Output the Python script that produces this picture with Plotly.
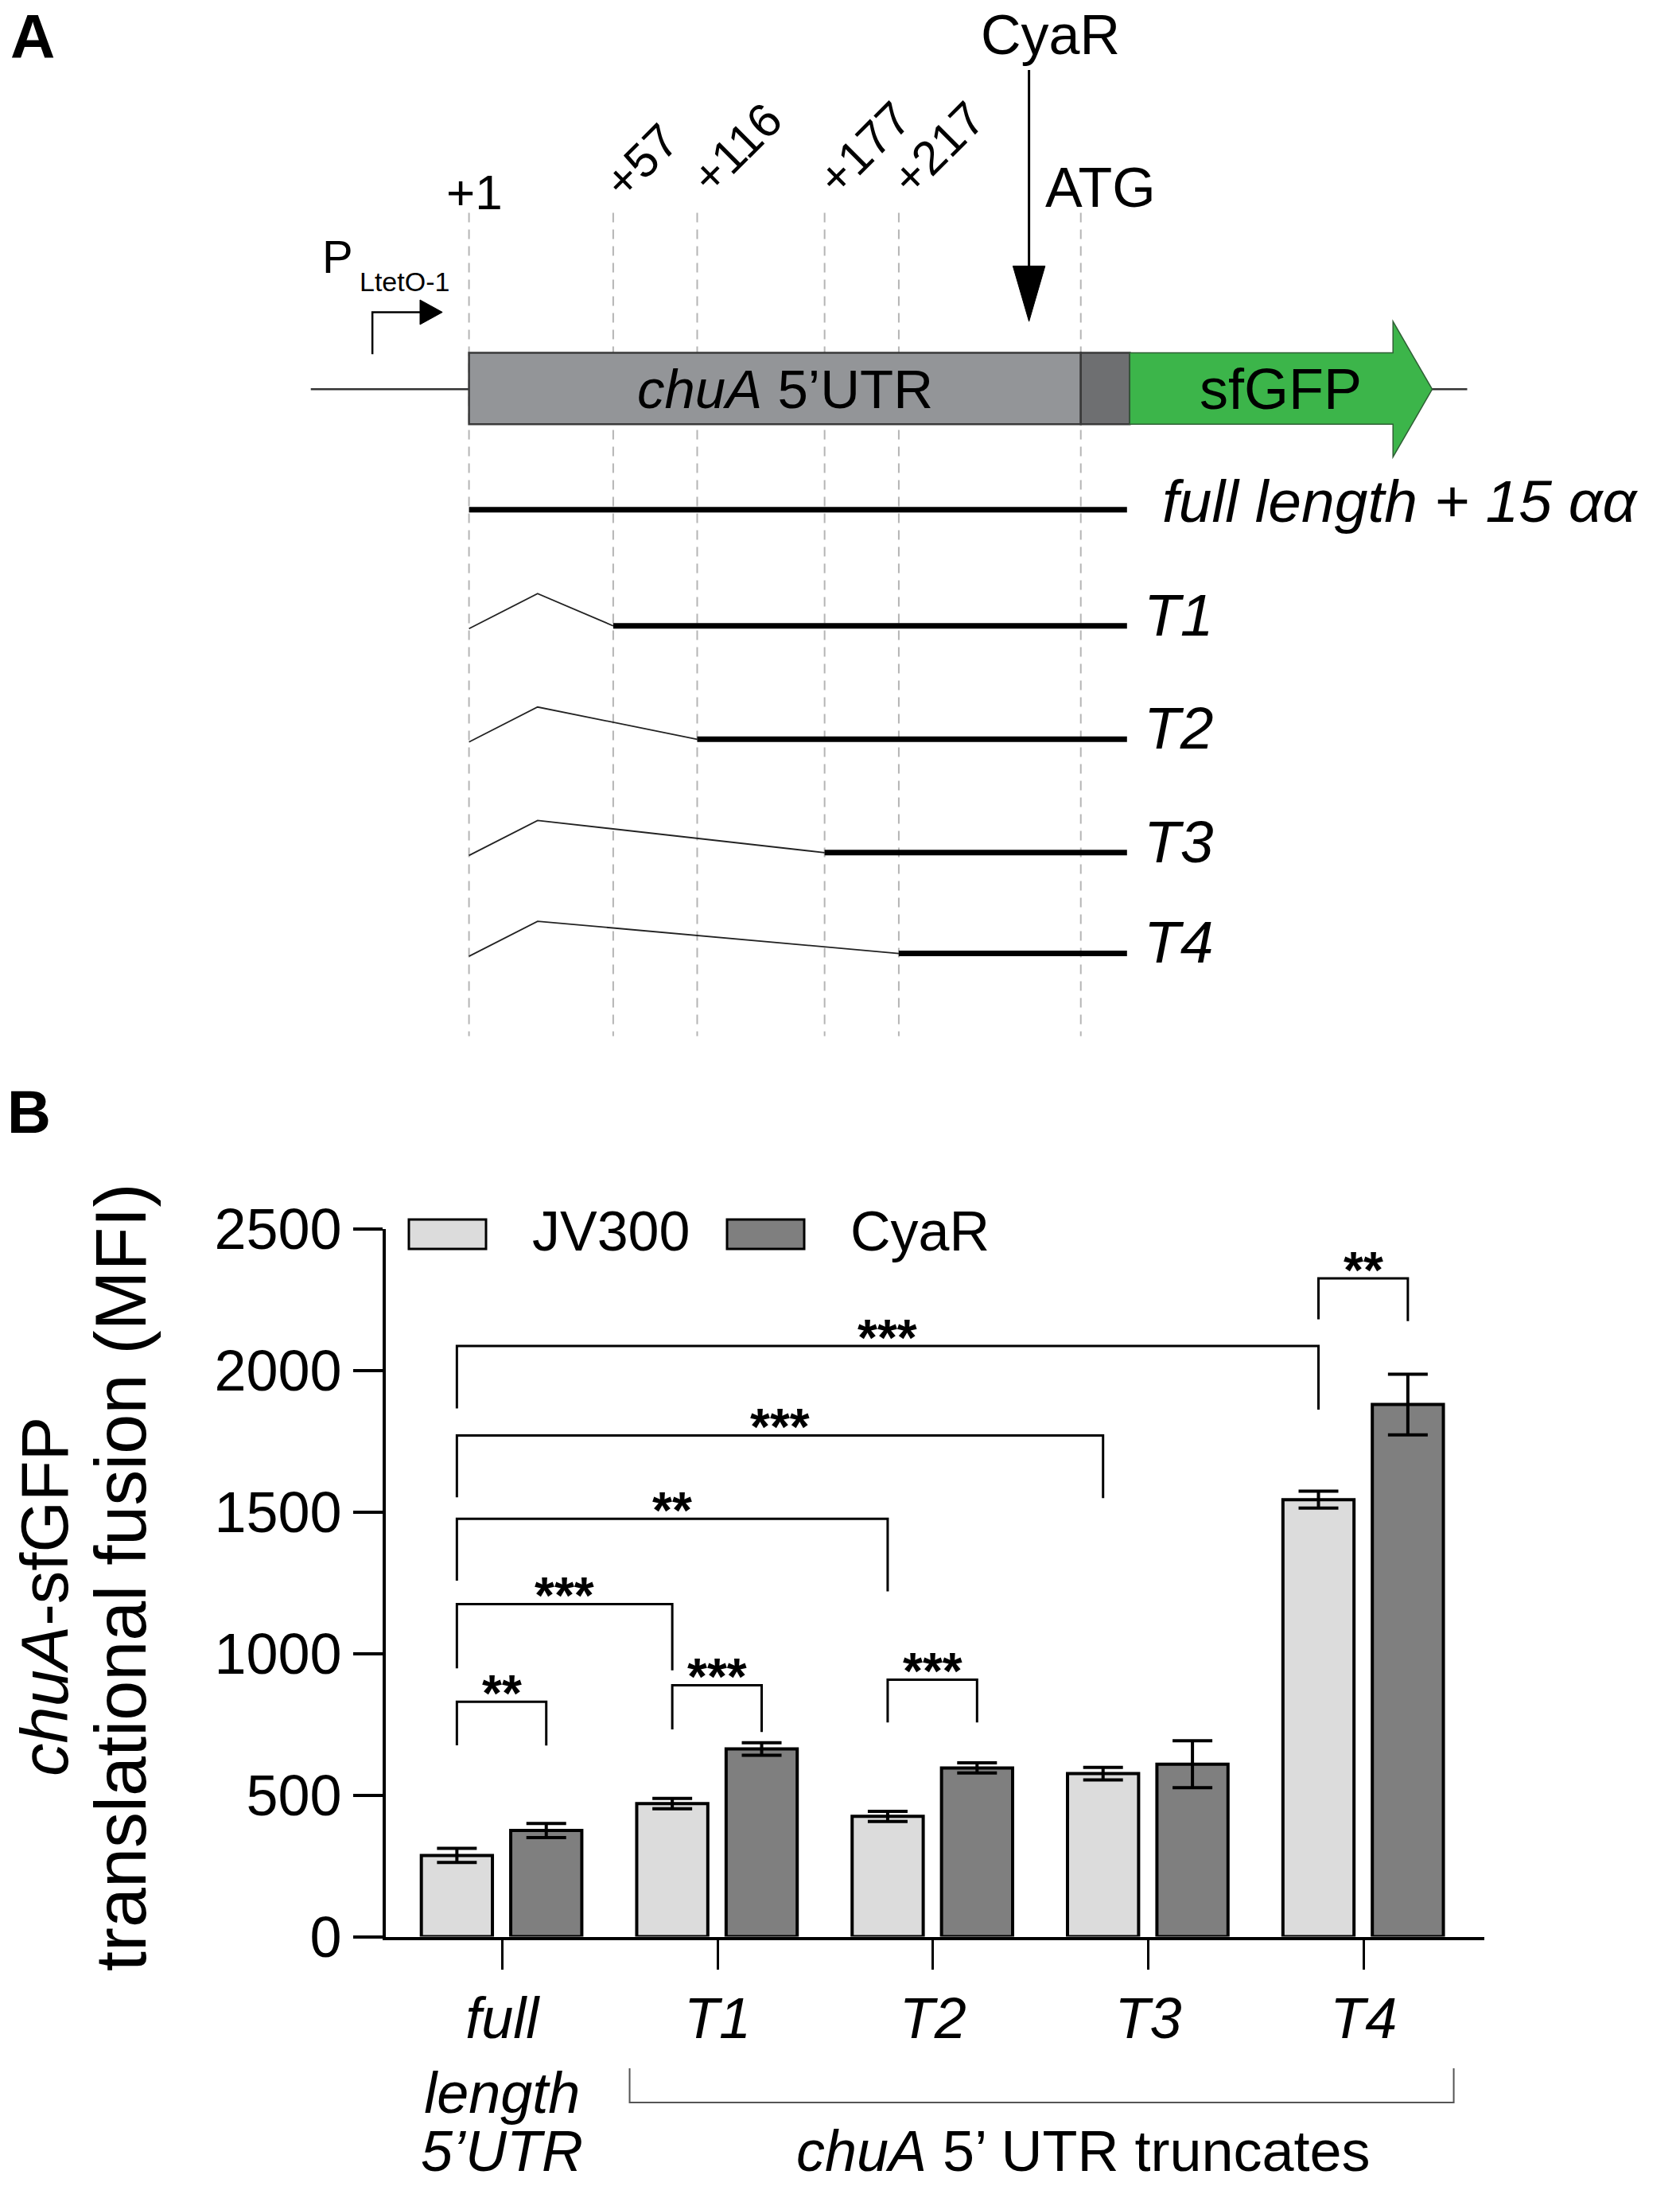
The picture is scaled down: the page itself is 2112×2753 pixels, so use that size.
import plotly.graph_objects as go

### panel B data (MFI)
categories = ["full length 5’UTR", "T1", "T2", "T3", "T4"]
tick_labels = ["<i>full</i><br><i>length</i>",
               "<i>T1</i>", "<i>T2</i>", "<i>T3</i>", "<i>T4</i>"]
jv300_mfi = [287, 470, 425, 576, 1544]
jv300_err = [25, 18, 18, 22, 30]
cyar_mfi = [375, 663, 596, 609, 1880]
cyar_err = [25, 22, 18, 83, 107]
y_ticks = [0, 500, 1000, 1500, 2000, 2500]

# significance brackets: left end is always the JV300 bar of sig_a,
# right end is the bar (group, strain) in sig_b
sig_a = [0, 0, 1, 0, 2, 0, 0, 4]
sig_b = [(0, "CyaR"), (1, "JV300"), (1, "CyaR"), (2, "JV300"),
         (2, "CyaR"), (3, "JV300"), (4, "JV300"), (4, "CyaR")]
sig_top = [830, 1175, 888, 1476, 908, 1771, 2087, 2326]
sig_left_end = [676, 948, 732, 1258, 757, 1552, 1866, 2181]
sig_right_end = [675, 941, 723, 1220, 757, 1549, 1862, 2175]
sig_stars = ["**", "***", "***", "**", "***", "***", "***", "**"]

### panel A data (schematic, not to scale)
site_labels = ["+1", "+57", "+116", "+177", "+217"]
site_x = [335, 438, 498, 589, 642]      # schematic position of each site
atg_x = 772                              # ATG start codon
fusion_end_x = 805                       # +15 aa into the coding sequence
construct_labels = ["full length + 15 αα", "T1", "T2", "T3", "T4"]
construct_start = ["+1", "+57", "+116", "+177", "+217"]

FONT = "Liberation Sans, Arial, sans-serif"
W, H = 2112, 2753

### bar geometry
bar_w = 0.33
offsets = {"JV300": -0.375, "CyaR": 0.04}
x_pos = list(range(len(categories)))


def bar_center(group, strain):
    return group + offsets[strain] + bar_w / 2


fig = go.Figure()

fig.add_trace(go.Bar(x=x_pos, y=jv300_mfi, width=bar_w, offset=offsets["JV300"],
                     marker=dict(color="#dcdcdc", line=dict(color="black", width=4)),
                     error_y=dict(type="data", array=jv300_err, color="black", thickness=4, width=25),
                     name="JV300", showlegend=False, xaxis="x", yaxis="y"))
fig.add_trace(go.Bar(x=x_pos, y=cyar_mfi, width=bar_w, offset=offsets["CyaR"],
                     marker=dict(color="#7f7f7f", line=dict(color="black", width=4)),
                     error_y=dict(type="data", array=cyar_err, color="black", thickness=4, width=25),
                     name="CyaR", showlegend=False, xaxis="x", yaxis="y"))

annotations = []
shapes = []

#significance brackets
for i in range(len(sig_a)):
    xa = bar_center(sig_a[i], "JV300")
    xb = bar_center(*sig_b[i])
    fig.add_trace(go.Scatter(x=[xa, xa, xb, xb],
                             y=[sig_left_end[i], sig_top[i], sig_top[i], sig_right_end[i]],
                             mode="lines", line=dict(color="black", width=3),
                             showlegend=False, hoverinfo="skip", xaxis="x", yaxis="y"))
    annotations.append(dict(x=(xa + xb) / 2, y=sig_top[i] + 68, xref="x", yref="y",
                            xanchor="center", yanchor="middle",
                            text="<b>" + sig_stars[i] + "</b>", showarrow=False, yshift=-14,
                            font=dict(size=64, color="black")))

#legend drawn by hand (plotly's swatches are too small)
legend_items = [("JV300", "#dcdcdc", 514, 667), ("CyaR", "#7f7f7f", 914, 1067)]
for name, colour, sx, tx in legend_items:
    shapes.append(dict(type="rect", xref="paper", yref="paper",
                       x0=sx / W, x1=(sx + 97) / W, y0=1 - 1570 / H, y1=1 - 1533 / H,
                       fillcolor=colour, line=dict(color="black", width=3)))
    annotations.append(dict(x=tx / W, y=1 - 1548 / H, xref="paper", yref="paper",
                            xanchor="left", yanchor="middle", text=name, showarrow=False,
                            font=dict(size=70, color="black")))

#third line of the first category label (kept inside the page)
annotations.append(dict(x=x_pos[0], y=1 - 2704 / H, xref="x", yref="paper",
                        xanchor="center", yanchor="middle", text="<i>5’UTR</i>",
                        showarrow=False, font=dict(size=72, color="black")))

#truncates bracket under the x axis
shapes.append(dict(type="path", xref="x", yref="paper",
                   path="M 0.592,%f L 0.592,%f L 4.418,%f L 4.418,%f" % (
                       1 - 2600 / H, 1 - 2643 / H, 1 - 2643 / H, 1 - 2600 / H),
                   line=dict(color="#555555", width=2)))
annotations.append(dict(x=2.7, y=1 - 2704 / H, xref="x", yref="paper",
                        xanchor="center", yanchor="middle",
                        text="<i>chuA</i> 5’ UTR truncates", showarrow=False,
                        font=dict(size=72, color="black")))

#y axis title, one annotation per line
annotations.append(dict(x=56 / W, y=1 - 2007 / H, xref="paper", yref="paper",
                        xanchor="center", yanchor="middle",
                        text="<i>chuA</i>-sfGFP", textangle=-90, showarrow=False,
                        font=dict(size=83, color="black")))
annotations.append(dict(x=152 / W, y=1 - 1983 / H, xref="paper", yref="paper",
                        xanchor="center", yanchor="middle",
                        text="translational fusion (MFI)", textangle=-90, showarrow=False,
                        font=dict(size=90, color="black")))

#panel letters
annotations.append(dict(x=41 / W, y=1 - 46 / H, xref="paper", yref="paper", text="<b>A</b>",
                        xanchor="center", yanchor="middle",
                        showarrow=False, font=dict(size=78, color="black")))
annotations.append(dict(x=36 / W, y=1 - 1397 / H, xref="paper", yref="paper", text="<b>B</b>",
                        xanchor="center", yanchor="middle",
                        showarrow=False, font=dict(size=76, color="black")))

### panel A schematic
row_y = [364, 447, 528, 609, 681]
box_top, box_bot, mid_y = 252, 303, 278

for sx in site_x + [atg_x]:
    shapes.append(dict(type="line", xref="x2", yref="y2", x0=sx, x1=sx, y0=152, y1=740,
                       line=dict(color="#b5b5b5", width=2, dash="12px,9px"), layer="below"))
shapes.append(dict(type="line", xref="x2", yref="y2", x0=222, x1=1048, y0=mid_y, y1=mid_y,
                   line=dict(color="#333333", width=2.5)))
shapes.append(dict(type="rect", xref="x2", yref="y2", x0=site_x[0], x1=atg_x, y0=box_top, y1=box_bot,
                   fillcolor="#939598", line=dict(color="#3a3a3a", width=2.5)))
shapes.append(dict(type="rect", xref="x2", yref="y2", x0=atg_x, x1=fusion_end_x + 2, y0=box_top, y1=box_bot,
                   fillcolor="#6e6f71", line=dict(color="#3a3a3a", width=2.5)))
gx0, gx1, tip = fusion_end_x + 2, 995, 1023
shapes.append(dict(type="path", xref="x2", yref="y2",
                   path="M %d,%d L %d,%d L %d,229.6 L %d,%d L %d,326.4 L %d,%d L %d,%d Z" % (
                       gx0, box_top, gx1, box_top, gx1, tip, mid_y, gx1, gx1, box_bot, gx0, box_bot),
                   fillcolor="#3cb54a", line=dict(color="#2f5f35", width=1.5)))
#CyaR arrow
shapes.append(dict(type="line", xref="x2", yref="y2", x0=735, x1=735, y0=50, y1=195,
                   line=dict(color="black", width=3)))
shapes.append(dict(type="path", xref="x2", yref="y2", path="M 723.5,190 L 746.5,190 L 735,229.6 Z",
                   fillcolor="black", line=dict(color="black", width=1)))
#promoter arrow
shapes.append(dict(type="path", xref="x2", yref="y2", path="M 266,253 L 266,223 L 301,223",
                   line=dict(color="black", width=2.5)))
shapes.append(dict(type="path", xref="x2", yref="y2", path="M 300,214.2 L 300,231.8 L 316,223 Z",
                   fillcolor="black", line=dict(color="black", width=1)))

#constructs
for k, name in enumerate(construct_labels):
    start = site_x[site_labels.index(construct_start[k])]
    y = row_y[k]
    if start > site_x[0]:
        fig.add_trace(go.Scatter(x=[site_x[0], 384, start], y=[y + 2, y - 23, y],
                                 mode="lines", line=dict(color="#222222", width=1.8),
                                 showlegend=False, hoverinfo="skip", xaxis="x2", yaxis="y2"))
    fig.add_trace(go.Scatter(x=[start, fusion_end_x], y=[y, y], mode="lines",
                             line=dict(color="black", width=7),
                             showlegend=False, hoverinfo="skip", xaxis="x2", yaxis="y2"))
    annotations.append(dict(x=829 if k == 0 else 816, y=y - 6 if k == 0 else y - 8,
                            xref="x2", yref="y2", xanchor="left", yanchor="middle",
                            text="<i>" + name + "</i>", showarrow=False,
                            font=dict(size=75, color="black")))

#site labels (slanted ones go up and to the right of their line)
annotations.append(dict(x=339, y=137, xref="x2", yref="y2", text=site_labels[0],
                        showarrow=False, font=dict(size=62, color="black")))
for lab, sx in zip(site_labels[1:], site_x[1:]):
    h = (len(lab) - 1) * 11 + 2
    annotations.append(dict(x=sx + 2 + 0.75 * h, y=134 - 0.8 * h, xref="x2", yref="y2",
                            text=lab, textangle=-45, showarrow=False,
                            font=dict(size=60, color="black")))
annotations.append(dict(x=786, y=134, xref="x2", yref="y2", text="ATG", showarrow=False,
                        font=dict(size=70, color="black")))
annotations.append(dict(x=750, y=25, xref="x2", yref="y2", text="CyaR", showarrow=False,
                        font=dict(size=70, color="black")))
annotations.append(dict(x=241, y=183, xref="x2", yref="y2", text="P", showarrow=False,
                        font=dict(size=58, color="black")))
annotations.append(dict(x=289, y=201, xref="x2", yref="y2", text="LtetO-1", showarrow=False,
                        font=dict(size=34, color="black")))
annotations.append(dict(x=561, y=278, xref="x2", yref="y2", text="<i>chuA</i> 5’UTR",
                        showarrow=False, font=dict(size=69, color="black")))
annotations.append(dict(x=915, y=278, xref="x2", yref="y2", text="sfGFP",
                        showarrow=False, font=dict(size=72, color="black")))

fig.update_layout(
    width=W, height=H, margin=dict(l=0, r=0, t=0, b=0, autoexpand=False),
    paper_bgcolor="white", plot_bgcolor="white",
    font=dict(family=FONT, color="black"),
    barmode="overlay", showlegend=False,
    xaxis=dict(domain=[485 / W, 1866 / W], range=[-0.54, 4.56], tickvals=x_pos, ticktext=tick_labels,
               ticks="outside", ticklen=37, tickwidth=3, tickcolor="black", automargin=False,
               showline=True, linewidth=4, linecolor="black", showgrid=False, zeroline=False,
               tickfont=dict(size=72, color="black"), anchor="y"),
    yaxis=dict(domain=[1 - 2434.5 / H, 1 - 1545 / H], range=[0, 2500], tickvals=y_ticks,
               ticks="outside", ticklen=37, tickwidth=4, tickcolor="black", automargin=False,
               showline=True, linewidth=4, linecolor="black", showgrid=False, zeroline=False,
               tickfont=dict(size=72, color="black"), anchor="x"),
    xaxis2=dict(domain=[0, 1], range=[0, 1200], visible=False, anchor="y2"),
    yaxis2=dict(domain=[1 - 1337.6 / H, 1], range=[760, 0], visible=False, anchor="x2"),
    shapes=shapes, annotations=annotations,
)

# page margins off so the figure sits flush with the window
fig.write_html("out.html", config={"displayModeBar": False},
               post_script="document.body.style.margin='0px'; document.body.style.overflow='hidden';")
